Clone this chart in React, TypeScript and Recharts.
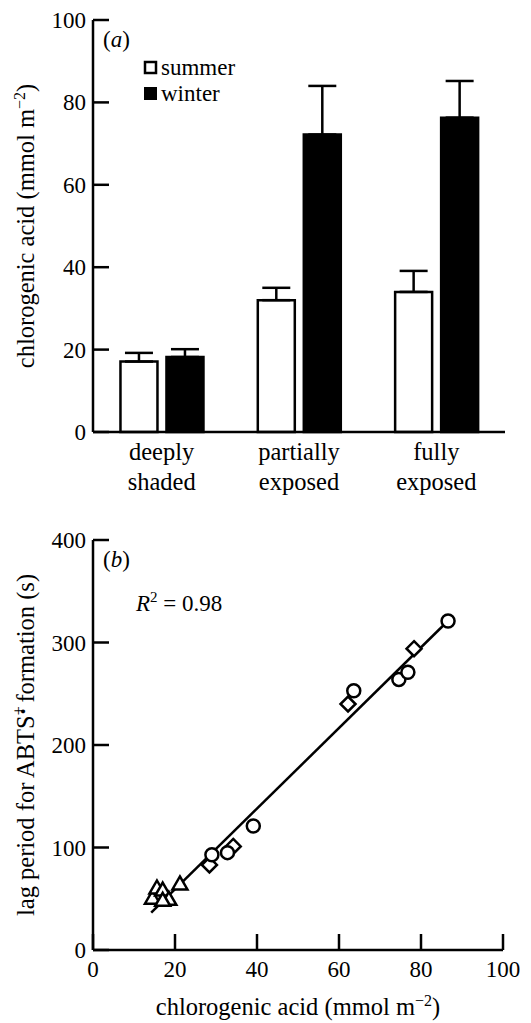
import React from "react";
import { BarChart, Bar, ErrorBar, XAxis, YAxis, ScatterChart, Scatter } from "recharts";

const FONT = "'Liberation Serif', 'Times New Roman', Times, 'DejaVu Serif', serif";
const TXT = { fontFamily: FONT, fontSize: 23 };
const LBL = { fontFamily: FONT, fontSize: 24.5 };

// panel (a)
const categories = ["deeply shaded", "partially exposed", "fully exposed"];
const summer = [17.1, 32.0, 34.0];
const summerErr = [2.1, 3.0, 5.1];
const winter = [18.2, 72.2, 76.3];
const winterErr = [1.9, 11.8, 8.9];
const ticksA = [0, 20, 40, 60, 80, 100];

// panel (b)
const circles = [
  { x: 86.6, y: 321 },
  { x: 63.6, y: 253 },
  { x: 74.6, y: 264 },
  { x: 76.8, y: 271 },
  { x: 39.1, y: 121 },
  { x: 29.0, y: 93 },
  { x: 32.8, y: 95 },
];
const diamonds = [
  { x: 78.3, y: 294 },
  { x: 62.2, y: 240 },
  { x: 34.2, y: 101 },
  { x: 28.4, y: 83 },
];
const triangles = [
  { x: 14.5, y: 50 },
  { x: 15.6, y: 60 },
  { x: 17.0, y: 58 },
  { x: 18.5, y: 49 },
  { x: 17.0, y: 48 },
  { x: 21.2, y: 64 },
];
const fitLine = [
  { x: 14.2, y: 36.5 },
  { x: 86.3, y: 320 },
];
const ticksBx = [0, 20, 40, 60, 80, 100];
const ticksBy = [0, 100, 200, 300, 400];

const barData = categories.map((name, i) => ({
  name,
  summer: summer[i],
  winter: winter[i],
  summerErr: [0, summerErr[i]],
  winterErr: [0, winterErr[i]],
}));

const SW = 2.5;

const YTick = (props: any) => {
  const { x, y, payload } = props;
  return (
    <g>
      <line x1={x} x2={x + 16} y1={y} y2={y} stroke="#000" strokeWidth={SW} />
      <text x={x - 7} y={y} dy={8} textAnchor="end" style={TXT} fill="#000">
        {payload.value}
      </text>
    </g>
  );
};

const CatTick = (props: any) => {
  const { x, y, payload } = props;
  const lines = String(payload.value).split(" ");
  return (
    <g>
      {lines.map((l: string, i: number) => (
        <text key={i} x={x} y={y + 28 + i * 30} textAnchor="middle" style={LBL} fill="#000">
          {l}
        </text>
      ))}
    </g>
  );
};

const XNumTick = (props: any) => {
  const { x, y, payload } = props;
  return (
    <g>
      <line x1={x} x2={x} y1={y} y2={y - 16} stroke="#000" strokeWidth={SW} />
      <text x={x} y={y + 27} textAnchor="middle" style={TXT} fill="#000">
        {payload.value}
      </text>
    </g>
  );
};

const Circle = (p: any) => <circle cx={p.cx} cy={p.cy} r={6.5} fill="#fff" stroke="#000" strokeWidth={SW} />;
const Diamond = (p: any) => (
  <polygon
    points={`${p.cx},${p.cy - 7.5} ${p.cx + 7.5},${p.cy} ${p.cx},${p.cy + 7.5} ${p.cx - 7.5},${p.cy}`}
    fill="#fff"
    stroke="#000"
    strokeWidth={SW}
  />
);
const Triangle = (p: any) => (
  <polygon
    points={`${p.cx},${p.cy - 8} ${p.cx + 7.5},${p.cy + 5} ${p.cx - 7.5},${p.cy + 5}`}
    fill="#fff"
    stroke="#000"
    strokeWidth={SW}
  />
);
const NoDot = () => <g />;

export default function App() {
  const axisLine = { stroke: "#000", strokeWidth: SW };
  return (
    <div
      style={{
        position: "absolute",
        left: 0,
        top: 0,
        width: 531,
        height: 1023,
        background: "#fff",
        fontFamily: FONT,
      }}
    >
      <div style={{ position: "absolute", left: 0, top: 0 }}>
        <BarChart
          width={531}
          height={510}
          data={barData}
          margin={{ top: 20, right: 26, left: 0, bottom: 0 }}
          barCategoryGap="20%"
          barGap={9}
        >
          <XAxis
            dataKey="name"
            height={78}
            axisLine={axisLine}
            tickLine={false}
            tickSize={0}
            tickMargin={0}
            interval={0}
            tick={<CatTick />}
          />
          <YAxis
            width={93}
            domain={[0, 100]}
            ticks={ticksA}
            interval={0}
            axisLine={axisLine}
            tickLine={false}
            tickSize={0}
            tickMargin={0}
            tick={<YTick />}
          />
          <Bar dataKey="summer" fill="#fff" stroke="#000" strokeWidth={SW} isAnimationActive={false}>
            <ErrorBar dataKey="summerErr" width={14} stroke="#000" strokeWidth={SW} />
          </Bar>
          <Bar dataKey="winter" fill="#000" stroke="#000" strokeWidth={SW} isAnimationActive={false}>
            <ErrorBar dataKey="winterErr" width={14} stroke="#000" strokeWidth={SW} />
          </Bar>
          <text x={103} y={47} style={TXT} fill="#000">
            (<tspan fontStyle="italic">a</tspan>)
          </text>
          <rect x={145} y={62} width={11} height={11} fill="#fff" stroke="#000" strokeWidth={SW} />
          <text x={161} y={75} style={TXT} fill="#000">summer</text>
          <rect x={144} y={87} width={13} height={13} fill="#000" />
          <text x={161} y={101} style={TXT} fill="#000">winter</text>
          <text x={34} y={226} transform="rotate(-90, 34, 226)" textAnchor="middle" style={LBL} fill="#000">
            chlorogenic acid (mmol m<tspan dy={-9} fontSize={16}>−2</tspan>
            <tspan dy={9}>)</tspan>
          </text>
        </BarChart>
      </div>
      <div style={{ position: "absolute", left: 0, top: 500 }}>
        <ScatterChart width={531} height={523} margin={{ top: 40, right: 28, left: 0, bottom: 0 }}>
          <XAxis
            type="number"
            dataKey="x"
            domain={[0, 100]}
            ticks={ticksBx}
            interval={0}
            height={73}
            axisLine={axisLine}
            tickLine={false}
            tickSize={0}
            tickMargin={0}
            tick={<XNumTick />}
          />
          <YAxis
            type="number"
            dataKey="y"
            width={93}
            domain={[0, 400]}
            ticks={ticksBy}
            interval={0}
            axisLine={axisLine}
            tickLine={false}
            tickSize={0}
            tickMargin={0}
            tick={<YTick />}
          />
          <Scatter data={fitLine} line={{ stroke: "#000", strokeWidth: SW }} shape={NoDot} isAnimationActive={false} />
          <Scatter data={triangles} shape={Triangle} isAnimationActive={false} />
          <Scatter data={diamonds} shape={Diamond} isAnimationActive={false} />
          <Scatter data={circles} shape={Circle} isAnimationActive={false} />
          <text x={103} y={67} style={TXT} fill="#000">
            (<tspan fontStyle="italic">b</tspan>)
          </text>
          <text x={136} y={111} style={TXT} fill="#000">
            <tspan fontStyle="italic">R</tspan>
            <tspan dy={-9} fontSize={15}>2</tspan>
            <tspan dy={9}> = 0.98</tspan>
          </text>
          <text x={34} y={245} transform="rotate(-90, 34, 245)" textAnchor="middle" style={LBL} fill="#000">
            lag period for ABTS<tspan dy={-10} fontSize={16}>+</tspan>
            <tspan dx={-8} dy={5} fontSize={16}>•</tspan>
            <tspan dy={5}> formation (s)</tspan>
          </text>
          <text x={298} y={515} textAnchor="middle" style={LBL} fill="#000">
            chlorogenic acid (mmol m<tspan dy={-9} fontSize={16}>−2</tspan>
            <tspan dy={9}>)</tspan>
          </text>
        </ScatterChart>
      </div>
    </div>
  );
}
